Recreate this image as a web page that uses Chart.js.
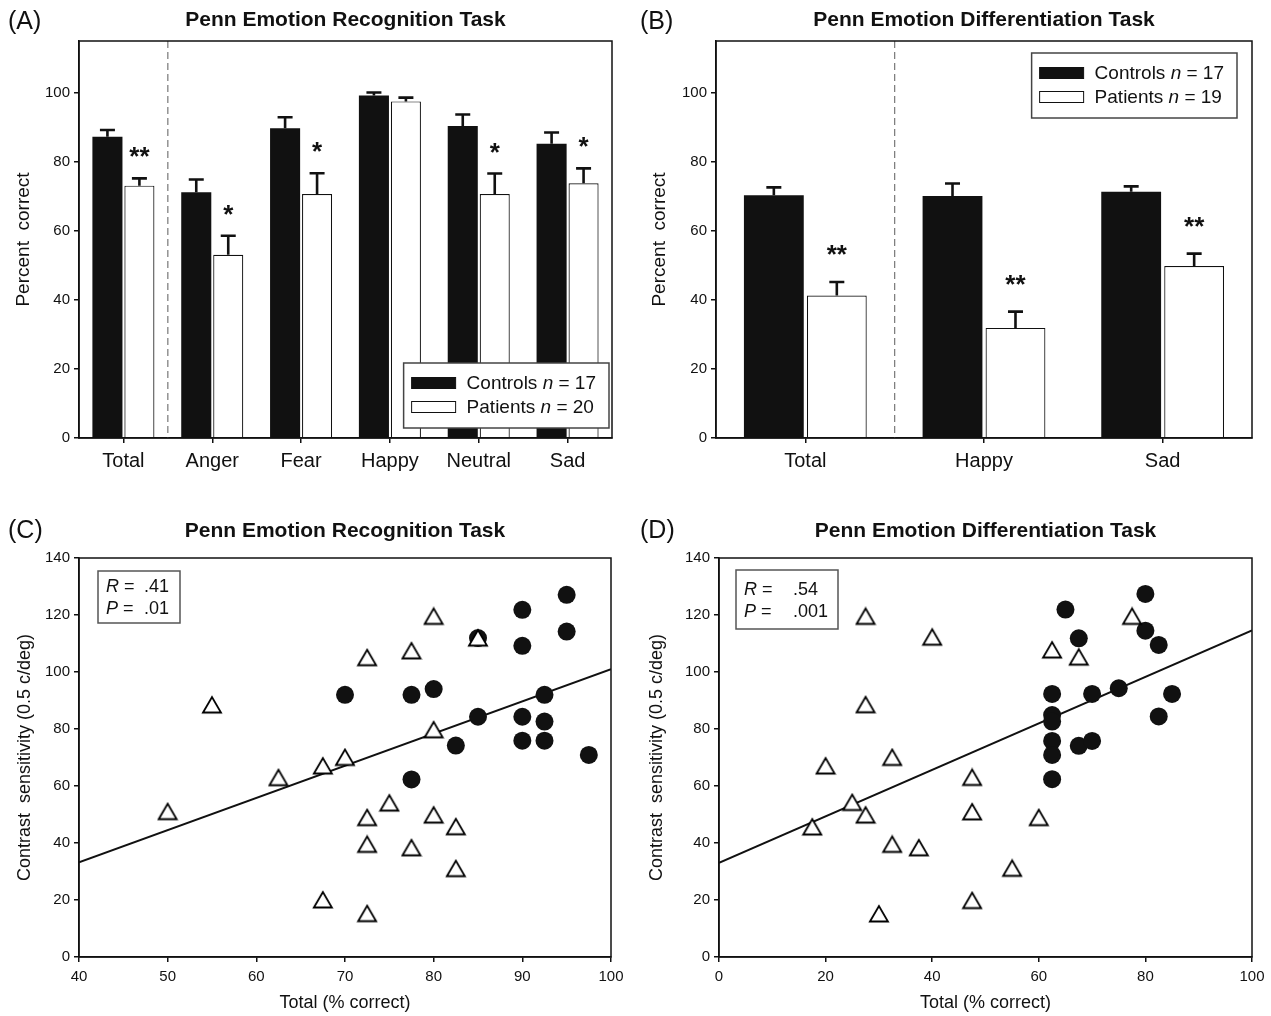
<!DOCTYPE html>
<html>
<head>
<meta charset="utf-8">
<script src="https://cdn.jsdelivr.net/npm/chart.js@4.4.0/dist/chart.umd.min.js"></script>
<style>
body { margin: 0; background: #fff; }
#page { position: relative; width: 1271px; height: 1016px; background: #fff; }
canvas { position: absolute; }
</style>
</head>
<body>
<div id="page">
<canvas id="panelA" width="630" height="500" style="left:0;top:0"></canvas>
<canvas id="panelB" width="641" height="500" style="left:630px;top:0"></canvas>
<canvas id="panelC" width="630" height="516" style="left:0;top:500px"></canvas>
<canvas id="panelD" width="641" height="516" style="left:630px;top:500px"></canvas>
</div>
<script>
// (A) Penn Emotion Recognition Task, mean and SE
var recogCats = ['Total', 'Anger', 'Fear', 'Happy', 'Neutral', 'Sad'];
var recogControls = [87.3, 71.2, 89.7, 99.2, 90.4, 85.2];
var recogControlsErr = [1.9, 3.7, 3.2, 0.9, 3.3, 3.3];
var recogPatients = [73.1, 53.1, 70.7, 97.5, 70.7, 73.8];
var recogPatientsErr = [2.1, 5.5, 6.0, 1.1, 5.9, 4.3];
var recogStars = ['**', '*', '*', '', '*', '*'];
var recogGroupN = [17, 20];

// (B) Penn Emotion Differentiation Task
var diffCats = ['Total', 'Happy', 'Sad'];
var diffControls = [70.3, 70.1, 71.3];
var diffControlsErr = [2.3, 3.6, 1.6];
var diffPatients = [41.3, 31.9, 49.8];
var diffPatientsErr = [3.9, 4.7, 3.6];
var diffStars = ['**', '**', '**'];
var diffGroupN = [17, 19];

// (C) contrast sensitivity vs recognition total
var recogPatX = [50, 55, 62.5, 67.5, 67.5, 70, 72.5, 72.5, 72.5, 72.5, 75, 77.5, 77.5, 80, 80, 80, 82.5, 82.5, 85];
var recogPatY = [51, 88.4, 62.9, 67, 20, 70, 105, 48.9, 39.5, 15.2, 54, 107.4, 38.3, 119.5, 79.7, 49.8, 45.7, 31, 111.9];
var recogConX = [70, 77.5, 77.5, 80, 82.5, 85, 85, 90, 90, 90, 90, 92.5, 92.5, 92.5, 95, 95, 97.5];
var recogConY = [92, 92, 62.3, 94, 74.2, 84.3, 111.9, 121.8, 109.2, 84.3, 75.9, 92, 82.6, 75.9, 127.1, 114.2, 70.9];
var recogFitX = [40, 100];
var recogFitY = [33.2, 101];
var recogStats = ['.41', '.01'];

// (D) contrast sensitivity vs differentiation total
var diffPatX = [17.5, 20, 25, 27.5, 27.5, 27.5, 30, 32.5, 32.5, 37.5, 40, 47.5, 47.5, 47.5, 55, 60, 62.5, 67.5, 77.5];
var diffPatY = [45.6, 67, 54.2, 119.5, 88.5, 49.8, 15.1, 70, 39.5, 38.3, 112.2, 63, 50.9, 19.8, 31.1, 48.9, 107.7, 105.2, 119.5];
var diffConX = [62.5, 62.5, 62.5, 62.5, 62.5, 62.5, 65, 67.5, 67.5, 70, 70, 75, 80, 80, 82.5, 82.5, 85];
var diffConY = [92.3, 84.9, 82.6, 75.8, 70.9, 62.4, 121.9, 111.8, 74.1, 92.3, 75.8, 94.3, 127.4, 114.5, 109.5, 84.4, 92.3];
var diffFitX = [0, 100];
var diffFitY = [33, 114.6];
var diffStats = ['.54', '.001'];

var family = '"Liberation Sans", Arial, Helvetica, sans-serif';
var ink = '#111';

function points(xs, ys) {
    return xs.map(function (x, i) { return { x: x, y: ys[i] }; });
}

// open triangle marker, centred on its bounding box like the original plot
function triangleMarker() {
    var c = document.createElement('canvas');
    c.width = 22;
    c.height = 20;
    var g = c.getContext('2d');
    g.beginPath();
    g.moveTo(2, 17.5);
    g.lineTo(11, 2);
    g.lineTo(20, 17.5);
    g.closePath();
    g.fillStyle = '#fff';
    g.fill();
    g.strokeStyle = '#000';
    g.lineWidth = 1.8;
    g.stroke();
    return c;
}
var triangle = triangleMarker();

function richText(ctx, parts, x, y, size) {
    parts.forEach(function (p) {
        ctx.font = (p.italic ? 'italic ' : '') + size + 'px ' + family;
        ctx.fillText(p.text, x, y);
        x += ctx.measureText(p.text).width;
    });
    return x;
}

var decor = {
    id: 'decor',
    beforeDatasetsDraw: function (chart, args, o) {
        if (o.dashedAfter === undefined) return;
        var ctx = chart.ctx, a = chart.chartArea, xs = chart.scales.x;
        var xd = (xs.getPixelForValue(o.dashedAfter) + xs.getPixelForValue(o.dashedAfter + 1)) / 2;
        ctx.save();
        ctx.strokeStyle = '#777';
        ctx.lineWidth = 1.2;
        ctx.setLineDash([7, 4]);
        ctx.beginPath();
        ctx.moveTo(xd, a.top);
        ctx.lineTo(xd, a.bottom);
        ctx.stroke();
        ctx.restore();
    },
    afterDatasetsDraw: function (chart, args, o) {
        if (!o.errors) return;
        var ctx = chart.ctx, ys = chart.scales.y;
        ctx.save();
        ctx.strokeStyle = ink;
        ctx.lineWidth = 2.6;
        o.errors.forEach(function (errs, i) {
            var meta = chart.getDatasetMeta(i);
            meta.data.forEach(function (bar, j) {
                var v = chart.data.datasets[i].data[j];
                var yTop = ys.getPixelForValue(v + errs[j]);
                ctx.beginPath();
                ctx.moveTo(bar.x, bar.y);
                ctx.lineTo(bar.x, yTop);
                ctx.moveTo(bar.x - 7.5, yTop);
                ctx.lineTo(bar.x + 7.5, yTop);
                ctx.stroke();
                if (i === 1 && o.stars[j]) {
                    ctx.fillStyle = ink;
                    ctx.font = 'bold 26px ' + family;
                    ctx.textAlign = 'center';
                    ctx.textBaseline = 'alphabetic';
                    ctx.fillText(o.stars[j], bar.x, yTop - o.starGap);
                }
            });
        });
        ctx.restore();
    },
    afterDraw: function (chart, args, o) {
        var ctx = chart.ctx, a = chart.chartArea;
        ctx.save();
        // frame
        ctx.strokeStyle = ink;
        ctx.lineWidth = 1.5;
        ctx.strokeRect(a.left, a.top, a.right - a.left, a.bottom - a.top);
        // panel letter
        ctx.fillStyle = ink;
        ctx.font = '25px ' + family;
        ctx.textAlign = 'left';
        ctx.textBaseline = 'middle';
        ctx.fillText(o.letter, o.letterX, o.letterY);

        if (o.legend) {
            var L = o.legend, size = 19;
            var rows = chart.data.datasets.map(function (ds, i) {
                return [{ text: ds.label + ' ' }, { text: 'n', italic: true }, { text: ' = ' + L.n[i] }];
            });
            var tw = 0;
            rows.forEach(function (r) {
                var w = 0;
                r.forEach(function (p) {
                    ctx.font = (p.italic ? 'italic ' : '') + size + 'px ' + family;
                    w += ctx.measureText(p.text).width;
                });
                tw = Math.max(tw, w);
            });
            var bw = 63 + tw + 13, bh = 65;
            var bx = a.right - L.right - bw;
            var by = L.top !== undefined ? a.top + L.top : a.bottom - L.bottom - bh;
            ctx.fillStyle = '#fff';
            ctx.fillRect(bx, by, bw, bh);
            ctx.strokeStyle = '#444';
            ctx.lineWidth = 1.5;
            ctx.strokeRect(bx, by, bw, bh);
            chart.data.datasets.forEach(function (ds, i) {
                var ry = by + 20 + i * 24;
                ctx.fillStyle = ds.backgroundColor;
                ctx.fillRect(bx + 8, ry - 5.5, 44, 11);
                ctx.strokeStyle = ink;
                ctx.lineWidth = 1;
                ctx.strokeRect(bx + 8, ry - 5.5, 44, 11);
                ctx.fillStyle = ink;
                ctx.textBaseline = 'middle';
                richText(ctx, rows[i], bx + 63, ry + 1, size);
            });
        }

        if (o.stats) {
            var S = o.stats;
            var sx = a.left + S.left, sy = a.top + S.top;
            ctx.strokeStyle = '#555';
            ctx.lineWidth = 1.5;
            ctx.strokeRect(sx, sy, S.w, S.h);
            ctx.fillStyle = ink;
            ctx.textBaseline = 'middle';
            ['R', 'P'].forEach(function (k, i) {
                var ry = sy + S.rows[i];
                richText(ctx, [{ text: k, italic: true }, { text: ' =' }], sx + 8, ry, 18);
                ctx.font = '18px ' + family;
                ctx.fillText(S.values[i], sx + S.valueX, ry);
            });
        }
        ctx.restore();
    }
};

function axisGrid() {
    return { display: true, drawOnChartArea: false, drawTicks: true, tickLength: 5, color: ink, lineWidth: 1.5 };
}

function barChart(id, cats, con, conErr, pat, patErr, stars, groupN, opts) {
    return new Chart(document.getElementById(id).getContext('2d'), {
        type: 'bar',
        data: {
            labels: cats,
            datasets: [{
                label: 'Controls',
                data: con,
                backgroundColor: ink,
                borderWidth: 0,
                categoryPercentage: opts.catPct,
                barPercentage: opts.barPct
            }, {
                label: 'Patients',
                data: pat,
                backgroundColor: '#fff',
                borderColor: ink,
                borderWidth: 1.2,
                categoryPercentage: opts.catPct,
                barPercentage: opts.barPct
            }]
        },
        options: {
            responsive: false,
            animation: false,
            events: [],
            layout: { padding: { left: 0, right: opts.padRight, top: 0, bottom: 0 } },
            plugins: {
                legend: { display: false },
                tooltip: { enabled: false },
                title: {
                    display: true, text: opts.title, fullSize: false, color: ink,
                    font: { size: 21, weight: 'bold', family: family },
                    padding: { top: 8, bottom: 7.8 }
                },
                decor: {
                    letter: opts.letter, letterX: opts.letterX, letterY: 22,
                    dashedAfter: 0, errors: [conErr, patErr], stars: stars, starGap: opts.starGap,
                    legend: Object.assign({ n: groupN }, opts.legend)
                }
            },
            scales: {
                x: {
                    grid: Object.assign(axisGrid(), { offset: false }),
                    border: { display: true, color: ink, width: 1.5 },
                    ticks: { color: ink, font: { size: 20, family: family }, padding: 6 },
                    afterFit: function (s) { s.height = 62; }
                },
                y: {
                    min: 0, max: 115,
                    grid: axisGrid(),
                    border: { display: true, color: ink, width: 1.5 },
                    ticks: { stepSize: 20, includeBounds: false, color: ink, font: { size: 15, family: family }, padding: 4 },
                    title: {
                        display: true, text: 'Percent  correct', color: ink,
                        font: { size: 19, family: family }, padding: { top: opts.yTitlePad, bottom: 0 }
                    },
                    afterFit: function (s) { s.width = opts.yWidth; }
                }
            }
        },
        plugins: [decor]
    });
}

function scatterChart(id, patX, patY, conX, conY, fitX, fitY, stats, opts) {
    return new Chart(document.getElementById(id).getContext('2d'), {
        type: 'scatter',
        data: {
            datasets: [{
                label: 'Patients',
                data: points(patX, patY),
                pointStyle: triangle,
                pointRadius: 10,
                backgroundColor: '#fff',
                borderColor: ink,
                borderWidth: 1.5
            }, {
                label: 'Controls',
                data: points(conX, conY),
                pointStyle: 'circle',
                pointRadius: 9,
                backgroundColor: ink,
                borderWidth: 0
            }, {
                type: 'line',
                label: 'Fit',
                data: points(fitX, fitY),
                borderColor: ink,
                borderWidth: 2,
                pointRadius: 0,
                fill: false
            }]
        },
        options: {
            responsive: false,
            animation: false,
            events: [],
            layout: { padding: { left: 0, right: opts.padRight, top: 0, bottom: 0 } },
            plugins: {
                legend: { display: false },
                tooltip: { enabled: false },
                title: {
                    display: true, text: opts.title, fullSize: false, color: ink,
                    font: { size: 21, weight: 'bold', family: family },
                    padding: { top: 19, bottom: 13.8 }
                },
                decor: {
                    letter: opts.letter, letterX: opts.letterX, letterY: 31,
                    stats: Object.assign({ values: stats }, opts.stats)
                }
            },
            scales: {
                x: {
                    type: 'linear', min: opts.xMin, max: opts.xMax,
                    grid: axisGrid(),
                    border: { display: true, color: ink, width: 1.5 },
                    ticks: { stepSize: opts.xStep, color: ink, font: { size: 15, family: family }, padding: 6 },
                    title: {
                        display: true, text: 'Total (% correct)', color: ink,
                        font: { size: 18, family: family }, padding: { top: 0, bottom: 2 }
                    },
                    afterFit: function (s) { s.height = 59; }
                },
                y: {
                    min: 0, max: 140,
                    grid: axisGrid(),
                    border: { display: true, color: ink, width: 1.5 },
                    ticks: { stepSize: 20, color: ink, font: { size: 15, family: family }, padding: 4 },
                    title: {
                        display: true, text: 'Contrast  sensitivity (0.5 c/deg)', color: ink,
                        font: { size: 18, family: family }, padding: { top: opts.yTitlePad, bottom: 0 }
                    },
                    afterFit: function (s) { s.width = opts.yWidth; }
                }
            }
        },
        plugins: [decor]
    });
}

barChart('panelA', recogCats, recogControls, recogControlsErr, recogPatients, recogPatientsErr, recogStars, recogGroupN, {
    title: 'Penn Emotion Recognition Task', letter: '(A)', letterX: 8,
    catPct: 0.72, barPct: 0.94, padRight: 18, yWidth: 79, yTitlePad: 12.6, starGap: 13,
    legend: { right: 3, bottom: 10 }
});

barChart('panelB', diffCats, diffControls, diffControlsErr, diffPatients, diffPatientsErr, diffStars, diffGroupN, {
    title: 'Penn Emotion Differentiation Task', letter: '(B)', letterX: 10,
    catPct: 0.705, barPct: 0.95, padRight: 19, yWidth: 86, yTitlePad: 18.6, starGap: 19,
    legend: { right: 15, top: 12 }
});

scatterChart('panelC', recogPatX, recogPatY, recogConX, recogConY, recogFitX, recogFitY, recogStats, {
    title: 'Penn Emotion Recognition Task', letter: '(C)', letterX: 8,
    xMin: 40, xMax: 100, xStep: 10, padRight: 19, yWidth: 79, yTitlePad: 14.7,
    stats: { left: 19, top: 13, w: 82, h: 52, valueX: 46, rows: [16, 38] }
});

scatterChart('panelD', diffPatX, diffPatY, diffConX, diffConY, diffFitX, diffFitY, diffStats, {
    title: 'Penn Emotion Differentiation Task', letter: '(D)', letterX: 10,
    xMin: 0, xMax: 100, xStep: 20, padRight: 19, yWidth: 89, yTitlePad: 16.2,
    stats: { left: 17, top: 12, w: 102, h: 59, valueX: 57, rows: [20, 42] }
});
</script>
</body>
</html>
